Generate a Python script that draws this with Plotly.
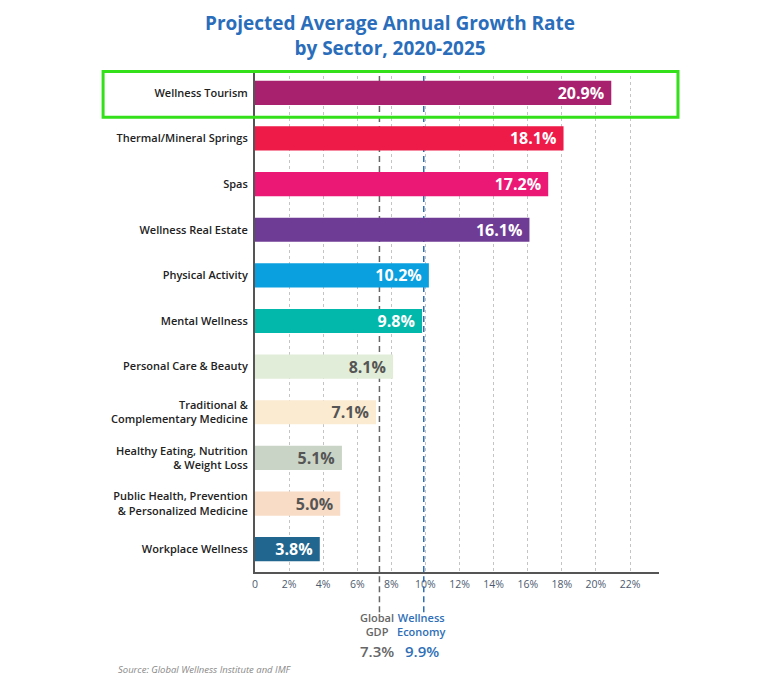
import plotly.graph_objects as go

sectors = [
    "Wellness Tourism",
    "Thermal/Mineral Springs",
    "Spas",
    "Wellness Real Estate",
    "Physical Activity",
    "Mental Wellness",
    "Personal Care & Beauty",
    "Traditional &<br>Complementary Medicine",
    "Healthy Eating, Nutrition<br>& Weight Loss",
    "Public Health, Prevention<br>& Personalized Medicine",
    "Workplace Wellness",
]
growth = [20.9, 18.1, 17.2, 16.1, 10.2, 9.8, 8.1, 7.1, 5.1, 5.0, 3.8]
bar_colors = ["#a8216e", "#ee1a47", "#ec1875", "#6e3b95", "#0aa0df", "#02b8aa",
              "#e1edd8", "#fbebd1", "#c9d4c6", "#f8dcc6", "#21668f"]
text_colors = ["white"] * 6 + ["#555555"] * 4 + ["white"]

tick_vals = [0, 2, 4, 6, 8, 10, 12, 14, 16, 18, 20, 22]
tick_text = ["0", "2%", "4%", "6%", "8%", "10%", "12%", "14%", "16%", "18%", "20%", "22%"]

ref_names = ["Global<br>GDP", "Wellness<br>Economy"]
ref_values = [7.3, 9.9]
ref_colors = ["#666666", "#2f6fb7"]

FONT = "Open Sans"

fig = go.Figure()
fig.add_trace(go.Bar(
    x=growth, y=sectors, orientation="h",
    marker=dict(color=bar_colors, line=dict(width=0)),
    width=0.53,
    text=[f"{v:.1f}%\u00a0" for v in growth],
    textposition="inside", insidetextanchor="end",
    constraintext="none",
    textfont=dict(family=FONT, size=16, color=text_colors, weight="bold"),
    hoverinfo="skip",
))

for v, c in zip(ref_values, ref_colors):
    # part inside the plot, behind the bars
    fig.add_shape(type="line", xref="x", yref="paper", x0=v, x1=v, y0=0, y1=1.0,
                  layer="between", line=dict(color=c, width=1.5, dash="6px,4px"))
    # extension below the axis
    fig.add_shape(type="line", xref="x", yref="paper", x0=v, x1=v, y0=-0.08, y1=0,
                  layer="above", line=dict(color=c, width=1.5, dash="6px,4px"))

for name, v, c in zip(ref_names, ref_values, ref_colors):
    fig.add_annotation(xref="x", yref="paper", x=v, y=-0.1355, text=name, showarrow=False,
                       font=dict(family=FONT, size=11, color=c, weight=600), borderpad=0,
                       xanchor="center", yanchor="bottom", xshift=-2)
    fig.add_annotation(xref="x", yref="paper", x=v, y=-0.1355, text=f"{v:.1f}%", showarrow=False,
                       font=dict(family=FONT, size=15, color=c, weight=600), borderpad=0,
                       xanchor="center", yanchor="top", xshift=-2)

# highlight box around top sector
fig.add_shape(type="rect", xref="paper", yref="paper", x0=-0.376, x1=1.047, y0=0.906, y1=0.997,
              line=dict(color="#33e01a", width=3), fillcolor="rgba(0,0,0,0)")

fig.add_annotation(xref="paper", yref="paper", x=0.334, y=1.068,
                   text="Projected Average Annual Growth Rate<br>by Sector, 2020-2025",
                   showarrow=False, xanchor="center", yanchor="middle",
                   font=dict(family=FONT, size=19, color="#2a6ebb", weight="bold"))

fig.add_annotation(xref="paper", yref="paper", x=-0.344, y=-0.195,
                   text="<i>Source: Global Wellness Institute and IMF</i>",
                   showarrow=False, xanchor="left", yanchor="middle",
                   font=dict(family=FONT, size=9.5, color="#888888"))

fig.update_layout(
    width=767, height=687,
    margin=dict(l=247, r=116, t=62, b=123),
    paper_bgcolor="white", plot_bgcolor="white",
    showlegend=False,
    bargap=0.47,
    xaxis=dict(range=[0, 23.7], tickvals=tick_vals, ticktext=tick_text,
               showgrid=True, gridcolor="#c4c4c4", gridwidth=1, griddash="3px,3px",
               zeroline=False, showline=True, linecolor="#555555", linewidth=2,
               ticks="", tickfont=dict(family=FONT, size=10.5, color="#4d5a6e"),
               ticklabelstandoff=1, fixedrange=True, automargin=False),
    yaxis=dict(range=[10.5, -0.5], showgrid=False, zeroline=False,
               showline=True, linecolor="#555555", linewidth=2,
               ticks="", tickfont=dict(family=FONT, size=11, color="#222222", weight=600),
               ticklabelstandoff=3, fixedrange=True, automargin=False),
)

fig.write_html("out.html")
